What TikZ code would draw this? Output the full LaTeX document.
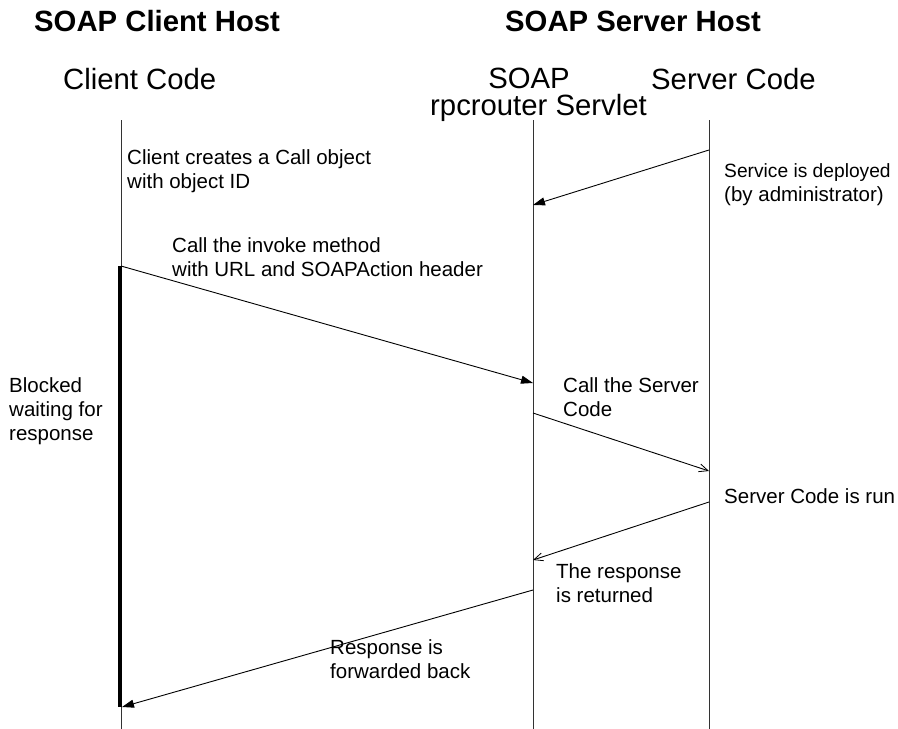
\documentclass[tikz,border=0pt]{standalone}
\usepackage{fontspec}
\setmainfont{Liberation Sans}
\usetikzlibrary{arrows.meta}
\begin{document}
\begin{tikzpicture}[x=1pt,y=-1pt,
  title/.style={font=\fontsize{29.3}{34}\selectfont\bfseries,inner sep=0,anchor=base west},
  head/.style={font=\fontsize{29.3}{34}\selectfont,inner sep=0},
  lbl/.style={font=\fontsize{20.5}{24}\selectfont,inner sep=0,anchor=base west},
  life/.style={line width=1pt,black!80},
  act/.style={line width=4pt,black},
  msg/.style={line width=0.9pt,-{Triangle[length=12pt,width=8pt]}},
  omsg/.style={line width=0.9pt,-{Straight Barb[length=9pt,width=8pt,line width=0.8pt]}}]
\useasboundingbox (0,0) rectangle (898,729);
% titles
\node[title] (t1) at (34,31) {SOAP Client Host};
\node[title] (t2) at (505,31) {SOAP Server Host};
% heads
\node[head,anchor=base west] (h1) at (63,89) {Client Code};
\node[head,anchor=base] (h2a) at (529,88) {SOAP};
\node[head,anchor=base west] (h2b) at (430,115) {rpcrouter Servlet};
\node[head,anchor=base west] (h3) at (651,89) {Server Code};
% lifelines
\coordinate (L1t) at (121,120); \coordinate (L1b) at (121,729);
\coordinate (L2t) at (533,120); \coordinate (L2b) at (533,729);
\coordinate (L3t) at (709,120); \coordinate (L3b) at (709,729);
\draw[life] (L1t) -- (L1b);
\draw[life] (L2t) -- (L2b);
\draw[life] (L3t) -- (L3b);
% activation bar
\coordinate (A1) at (120,266); \coordinate (A2) at (120,707);
\draw[act] (A1) -- (A2);
% message points
\coordinate (m1s) at (709,150); \coordinate (m1e) at (533,205);
\coordinate (m2s) at (121,266); \coordinate (m2e) at (533,383);
\coordinate (m3s) at (533,413); \coordinate (m3e) at (709,471);
\coordinate (m4s) at (709,502); \coordinate (m4e) at (533,560);
\coordinate (m5s) at (533,590); \coordinate (m5e) at (122,707);
\draw[msg] (m1s) -- (m1e);
\draw[msg] (m2s) -- (m2e);
\draw[omsg] (m3s) -- (m3e);
\draw[omsg] (m4s) -- (m4e);
\draw[msg] (m5s) -- (m5e);
% labels
\node[lbl] (a1) at (127,164) {Client creates a Call object};
\node[lbl] (a2) at (127,188) {with object ID};
\node[lbl,font=\fontsize{19.2}{24}\selectfont] (b1) at (724,177) {Service is deployed};
\node[lbl] (b2) at (724,201) {(by administrator)};
\node[lbl] (c1) at (172,252) {Call the invoke method};
\node[lbl] (c2) at (172,276) {with URL and SOAPAction header};
\node[lbl] (d1) at (9,392) {Blocked};
\node[lbl] (d2) at (9,416) {waiting for};
\node[lbl] (d3) at (9,440) {response};
\node[lbl] (e1) at (563,392) {Call the Server};
\node[lbl] (e2) at (563,416) {Code};
\node[lbl] (f1) at (724,503) {Server Code is run};
\node[lbl] (g1) at (556,578) {The response};
\node[lbl] (g2) at (556,602) {is returned};
\node[lbl] (k1) at (330,654) {Response is};
\node[lbl] (k2) at (330,678) {forwarded back};
\end{tikzpicture}
\end{document}
